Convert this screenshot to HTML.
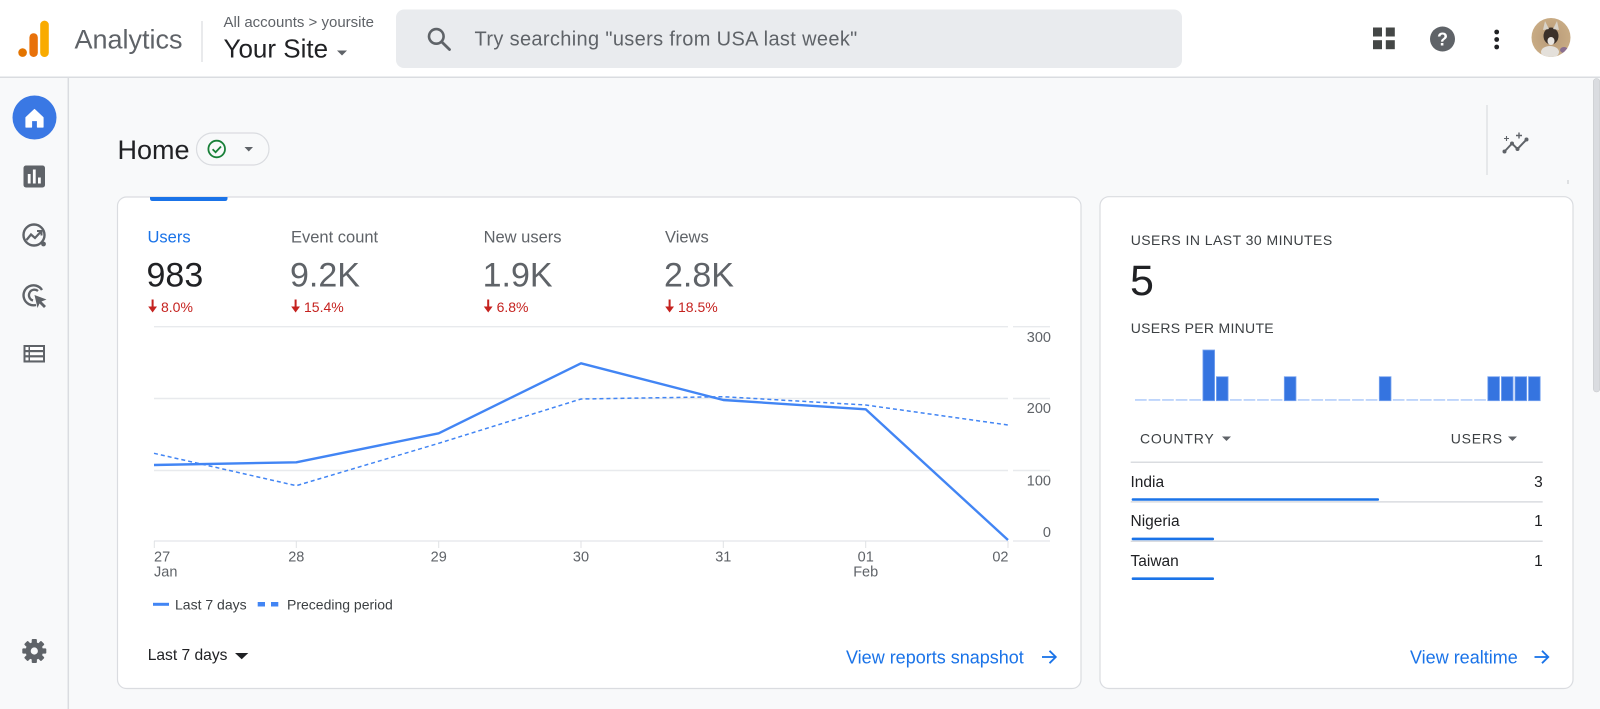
<!DOCTYPE html>
<html><head><meta charset="utf-8"><style>
html,body{margin:0;padding:0;background:#f8f9fa;}
svg{display:block;font-family:"Liberation Sans",Arial,sans-serif;}
</style></head><body>
<svg width="1600" height="709" viewBox="0 0 1600 709" xmlns="http://www.w3.org/2000/svg">
<!-- page background -->
<rect x="0" y="0" width="1600" height="709" fill="#f8f9fa"/>
<!-- header -->
<rect x="0" y="0" width="1600" height="77" fill="#ffffff"/>
<line x1="0" y1="77.2" x2="1600" y2="77.2" stroke="#dadce0" stroke-width="1.5"/>
<!-- logo -->
<circle cx="22.6" cy="52.6" r="4.3" fill="#E37400"/>
<rect x="29.4" y="33.2" width="8.4" height="23.8" rx="4.2" fill="#E8710A"/>
<rect x="40.2" y="20.6" width="8.6" height="36.4" rx="4.3" fill="#F9AB00"/>
<text x="74.5" y="48.5" font-size="27" fill="#5f6368">Analytics</text>
<line x1="202" y1="21" x2="202" y2="62" stroke="#dadce0" stroke-width="1.2"/>
<text x="223.5" y="27" font-size="15" fill="#5f6368">All accounts <tspan font-size="15">&gt;</tspan> yoursite</text>
<text x="223.5" y="57.5" font-size="26" fill="#202124">Your Site</text>
<polygon points="337,50.5 347,50.5 342,55.5" fill="#5f6368"/>
<!-- search -->
<rect x="396" y="9.5" width="786" height="58.5" rx="8" fill="#e9ebee"/>
<circle cx="436.3" cy="36.4" r="7.3" fill="none" stroke="#5f6368" stroke-width="2.6"/>
<line x1="441.6" y1="41.8" x2="449.5" y2="49.5" stroke="#5f6368" stroke-width="2.8" stroke-linecap="round"/>
<text x="474.5" y="45.5" font-size="20" letter-spacing="0.35" fill="#5f6368">Try searching "users from USA last week"</text>
<!-- header right icons -->
<rect x="1373" y="27.5" width="9" height="9" fill="#444746"/>
<rect x="1385.8" y="27.5" width="9" height="9" fill="#444746"/>
<rect x="1373" y="40.2" width="9" height="9" fill="#444746"/>
<rect x="1385.8" y="40.2" width="9" height="9" fill="#444746"/>
<circle cx="1442.5" cy="39" r="12.5" fill="#5f6368"/>
<text x="1442.5" y="45.5" font-size="18" font-weight="bold" fill="#ffffff" text-anchor="middle">?</text>
<circle cx="1496.7" cy="32" r="2.4" fill="#202124"/>
<circle cx="1496.7" cy="39.5" r="2.4" fill="#202124"/>
<circle cx="1496.7" cy="47" r="2.4" fill="#202124"/>
<!-- avatar -->
<defs>
<radialGradient id="av" cx="50%" cy="50%" r="50%">
<stop offset="0%" stop-color="#b89a78"/><stop offset="100%" stop-color="#c8ab84"/>
</radialGradient>
<clipPath id="avc"><circle cx="1551" cy="37.5" r="19.5"/></clipPath>
</defs>
<circle cx="1551" cy="37.5" r="19.5" fill="url(#av)"/>
<g clip-path="url(#avc)">
<ellipse cx="1551" cy="36" rx="7.5" ry="8.5" fill="#3b3029"/>
<polygon points="1543,30 1545,21 1549,29" fill="#d8d2c8"/>
<polygon points="1559,30 1557,21 1553,29" fill="#d8d2c8"/>
<ellipse cx="1551" cy="41" rx="3.5" ry="4" fill="#e9e5e0"/>
<ellipse cx="1550" cy="52" rx="9" ry="6" fill="#e4e0da"/>
<ellipse cx="1564" cy="50" rx="4" ry="3" fill="#8a6f8f"/>
</g>
<!-- sidebar -->
<line x1="68.3" y1="77" x2="68.3" y2="709" stroke="#dadce0" stroke-width="1.5"/>
<circle cx="34.5" cy="117.5" r="22" fill="#3a78e4"/>
<path d="M26 117.5 L34.5 109.5 L43 117.5 L43 127 L37.5 127 L37.5 120.5 L31.5 120.5 L31.5 127 L26 127 Z" fill="#ffffff" stroke="#ffffff" stroke-width="1.2" stroke-linejoin="round"/>
<!-- reports icon -->
<rect x="23.5" y="165.5" width="21.5" height="22" rx="2.5" fill="#5f6368"/>
<rect x="27.8" y="174" width="2.8" height="9.5" fill="#ffffff"/>
<rect x="32.9" y="169.5" width="2.8" height="14" fill="#ffffff"/>
<rect x="38" y="177.5" width="2.8" height="6" fill="#ffffff"/>
<!-- explore icon -->
<circle cx="34" cy="235" r="10.5" fill="none" stroke="#5f6368" stroke-width="2.4"/>
<polyline points="26.5,240 31,234.5 35,238 41,231.5" fill="none" stroke="#5f6368" stroke-width="2.2"/>
<polyline points="37,231 41.5,231 41.5,235.5" fill="none" stroke="#5f6368" stroke-width="2"/>
<circle cx="43.5" cy="244" r="2.4" fill="#5f6368"/>
<!-- advertising icon -->
<path d="M42 290 A10 10 0 1 0 36 305" fill="none" stroke="#5f6368" stroke-width="2.4"/>
<path d="M38 291 A5.5 5.5 0 1 0 33 300.5" fill="none" stroke="#5f6368" stroke-width="2.3"/>
<polygon points="34.5,295 46.5,299.5 41.5,301.5 46,306 44,308 39.5,303.5 37.5,308" fill="#5f6368"/>
<!-- list icon -->
<rect x="23.5" y="345" width="21.5" height="17.5" fill="#5f6368"/>
<rect x="25.5" y="347" width="3" height="3" fill="#ffffff"/>
<rect x="25.5" y="352.2" width="3" height="3" fill="#ffffff"/>
<rect x="25.5" y="357.4" width="3" height="3" fill="#ffffff"/>
<rect x="30" y="347" width="13" height="3" fill="#ffffff"/>
<rect x="30" y="352.2" width="13" height="3" fill="#ffffff"/>
<rect x="30" y="357.4" width="13" height="3" fill="#ffffff"/>
<!-- gear -->
<g transform="translate(34.3,651)" fill="#5f6368">
<circle r="8.8"/>
<rect x="-2.6" y="-12" width="5.2" height="6" rx="1"/>
<rect x="-2.6" y="-12" width="5.2" height="6" rx="1" transform="rotate(45)"/>
<rect x="-2.6" y="-12" width="5.2" height="6" rx="1" transform="rotate(90)"/>
<rect x="-2.6" y="-12" width="5.2" height="6" rx="1" transform="rotate(135)"/>
<rect x="-2.6" y="-12" width="5.2" height="6" rx="1" transform="rotate(180)"/>
<rect x="-2.6" y="-12" width="5.2" height="6" rx="1" transform="rotate(225)"/>
<rect x="-2.6" y="-12" width="5.2" height="6" rx="1" transform="rotate(270)"/>
<rect x="-2.6" y="-12" width="5.2" height="6" rx="1" transform="rotate(315)"/>
<circle r="3.6" fill="#f8f9fa"/>
</g>
<!-- Home title -->
<text x="117.5" y="159" font-size="27" fill="#202124">Home</text>
<rect x="196.5" y="133" width="72.5" height="32" rx="16" fill="none" stroke="#dadce0" stroke-width="1.2"/>
<circle cx="216.7" cy="149" r="8.3" fill="none" stroke="#188038" stroke-width="1.8"/>
<polyline points="212.6,149.2 215.6,152.2 221,146.5" fill="none" stroke="#188038" stroke-width="1.8"/>
<polygon points="244.5,147 253,147 248.75,151.5" fill="#5f6368"/>
<!-- insights -->
<line x1="1487" y1="105" x2="1487" y2="175" stroke="#dadce0" stroke-width="1.2"/>
<polyline points="1504.5,151.5 1512,143.5 1517.5,149 1526.5,139.5" fill="none" stroke="#5f6368" stroke-width="2"/>
<circle cx="1504.5" cy="151.5" r="2" fill="#5f6368"/>
<circle cx="1512" cy="143.5" r="2" fill="#5f6368"/>
<circle cx="1517.5" cy="149" r="2" fill="#5f6368"/>
<circle cx="1526.5" cy="139.5" r="2" fill="#5f6368"/>
<path d="M1506.5 136 v5 M1504 138.5 h5" stroke="#5f6368" stroke-width="1.1"/>
<path d="M1519 132.5 v6 M1516 135.5 h6" stroke="#5f6368" stroke-width="1.4"/>
<line x1="1568" y1="180" x2="1568" y2="184" stroke="#c4c7c9" stroke-width="1"/>
<!-- scrollbar -->
<rect x="1593.3" y="78.5" width="6.5" height="313.5" rx="3.2" fill="#dadce0" stroke="#c9cbce" stroke-width="0.6"/>

<!-- LEFT CARD -->
<rect x="117.5" y="197" width="963.5" height="491.5" rx="9" fill="#ffffff" stroke="#dadce0" stroke-width="1.2"/>
<path d="M150 197 H227.5 V198.5 Q227.5 201 225 201 H152.5 Q150 201 150 198.5 Z" fill="#1a73e8"/>
<!-- metrics -->
<text x="147.5" y="242.7" font-size="16.5" fill="#1a73e8">Users</text>
<text x="291" y="242.7" font-size="16.5" fill="#5f6368">Event count</text>
<text x="483.6" y="242.7" font-size="16.5" fill="#5f6368">New users</text>
<text x="665" y="242.7" font-size="16.5" fill="#5f6368">Views</text>
<text x="146.5" y="286.5" font-size="34" fill="#202124">983</text>
<text x="290" y="286.5" font-size="34" fill="#5f6368">9.2K</text>
<text x="482.6" y="286.5" font-size="34" fill="#5f6368">1.9K</text>
<text x="664" y="286.5" font-size="34" fill="#5f6368">2.8K</text>
<g fill="#c5221f">
<rect x="151.6" y="299.5" width="2" height="9"/><polygon points="148.2,306.5 157,306.5 152.6,312.5"/>
<rect x="294.6" y="299.5" width="2" height="9"/><polygon points="291.2,306.5 300,306.5 295.6,312.5"/>
<rect x="487.2" y="299.5" width="2" height="9"/><polygon points="483.8,306.5 492.6,306.5 488.2,312.5"/>
<rect x="668.6" y="299.5" width="2" height="9"/><polygon points="665.2,306.5 674,306.5 669.6,312.5"/>
</g>
<text x="161" y="312" font-size="14" fill="#c5221f">8.0%</text>
<text x="304" y="312" font-size="14" fill="#c5221f">15.4%</text>
<text x="496.6" y="312" font-size="14" fill="#c5221f">6.8%</text>
<text x="678" y="312" font-size="14" fill="#c5221f">18.5%</text>
<!-- grid -->
<g stroke="#e8eaed" stroke-width="1.4">
<line x1="154" y1="326.7" x2="1008" y2="326.7"/><line x1="1013" y1="326.7" x2="1050" y2="326.7"/>
<line x1="154" y1="398.5" x2="1008" y2="398.5"/><line x1="1013" y1="398.5" x2="1050" y2="398.5"/>
<line x1="154" y1="470.5" x2="1008" y2="470.5"/><line x1="1013" y1="470.5" x2="1050" y2="470.5"/>
<line x1="154" y1="541" x2="1008" y2="541"/><line x1="1013" y1="541" x2="1050" y2="541"/>
</g>
<g stroke="#e0e2e5" stroke-width="1">
<line x1="154.3" y1="541" x2="154.3" y2="548"/>
<line x1="296.3" y1="541" x2="296.3" y2="548"/>
<line x1="438.7" y1="541" x2="438.7" y2="548"/>
<line x1="581" y1="541" x2="581" y2="548"/>
<line x1="723.3" y1="541" x2="723.3" y2="548"/>
<line x1="865.7" y1="541" x2="865.7" y2="548"/>
<line x1="1008" y1="541" x2="1008" y2="548"/>
</g>
<g font-size="14.5" fill="#5f6368">
<text x="1051" y="342" text-anchor="end">300</text>
<text x="1051" y="413" text-anchor="end">200</text>
<text x="1051" y="485.3" text-anchor="end">100</text>
<text x="1051" y="537" text-anchor="end">0</text>
<text x="154" y="561.5">27</text>
<text x="154" y="576.5">Jan</text>
<text x="296.3" y="561.5" text-anchor="middle">28</text>
<text x="438.7" y="561.5" text-anchor="middle">29</text>
<text x="581" y="561.5" text-anchor="middle">30</text>
<text x="723.3" y="561.5" text-anchor="middle">31</text>
<text x="865.7" y="561.5" text-anchor="middle">01</text>
<text x="865.7" y="576.5" text-anchor="middle">Feb</text>
<text x="1008.5" y="561.5" text-anchor="end">02</text>
</g>
<!-- series -->
<polyline points="154,453.3 296.3,485.7 438.7,443.3 581,399 723.3,396.7 865.7,405 1008,425" fill="none" stroke="#4285f4" stroke-width="1.5" stroke-dasharray="4 3"/>
<polyline points="154,465 296.3,462.3 438.7,433.3 581,363.3 723.3,400 865.7,409.3 1008,540" fill="none" stroke="#4285f4" stroke-width="2.4" stroke-linejoin="round"/>
<!-- legend -->
<line x1="153" y1="604.3" x2="169" y2="604.3" stroke="#4285f4" stroke-width="3"/>
<text x="175" y="609.3" font-size="14" fill="#3c4043">Last 7 days</text>
<rect x="257.7" y="602" width="7.3" height="4.5" fill="#4285f4"/>
<rect x="271" y="602" width="7.3" height="4.5" fill="#4285f4"/>
<text x="287" y="609.3" font-size="14" fill="#3c4043">Preceding period</text>
<!-- bottom -->
<text x="147.7" y="660" font-size="15.6" fill="#202124">Last 7 days</text>
<polygon points="235,653 248.3,653 241.7,659.3" fill="#202124"/>
<text x="846" y="663.3" font-size="18" fill="#1a73e8">View reports snapshot</text>
<line x1="1042" y1="657" x2="1055.5" y2="657" stroke="#1a73e8" stroke-width="1.8"/>
<polyline points="1049.5,650.8 1055.8,657 1049.5,663.2" fill="none" stroke="#1a73e8" stroke-width="1.8"/>

<!-- RIGHT CARD -->
<rect x="1100" y="196.7" width="473" height="491.8" rx="9" fill="#ffffff" stroke="#dadce0" stroke-width="1.2"/>
<text x="1130.7" y="245" font-size="14" letter-spacing="0.45" fill="#3c4043">USERS IN LAST 30 MINUTES</text>
<text x="1130" y="295" font-size="43" fill="#202124">5</text>
<text x="1130.7" y="332.8" font-size="14" letter-spacing="0.3" fill="#3c4043">USERS PER MINUTE</text>
<!-- bars -->
<g fill="#aecbfa">
<rect x="1135" y="399.2" width="11.7" height="1.5"/>
<rect x="1148.6" y="399.2" width="11.7" height="1.5"/>
<rect x="1162.1" y="399.2" width="11.7" height="1.5"/>
<rect x="1175.7" y="399.2" width="11.7" height="1.5"/>
<rect x="1189.3" y="399.2" width="11.7" height="1.5"/>
<rect x="1230" y="399.2" width="11.7" height="1.5"/>
<rect x="1243.6" y="399.2" width="11.7" height="1.5"/>
<rect x="1257.1" y="399.2" width="11.7" height="1.5"/>
<rect x="1270.7" y="399.2" width="11.7" height="1.5"/>
<rect x="1297.8" y="399.2" width="11.7" height="1.5"/>
<rect x="1311.4" y="399.2" width="11.7" height="1.5"/>
<rect x="1325" y="399.2" width="11.7" height="1.5"/>
<rect x="1338.5" y="399.2" width="11.7" height="1.5"/>
<rect x="1352.1" y="399.2" width="11.7" height="1.5"/>
<rect x="1365.7" y="399.2" width="11.7" height="1.5"/>
<rect x="1392.8" y="399.2" width="11.7" height="1.5"/>
<rect x="1406.4" y="399.2" width="11.7" height="1.5"/>
<rect x="1419.9" y="399.2" width="11.7" height="1.5"/>
<rect x="1433.5" y="399.2" width="11.7" height="1.5"/>
<rect x="1447.1" y="399.2" width="11.7" height="1.5"/>
<rect x="1460.7" y="399.2" width="11.7" height="1.5"/>
<rect x="1474.2" y="399.2" width="11.7" height="1.5"/>
</g>
<g fill="#3574e0" stroke="#7aa5f0" stroke-width="0.8">
<rect x="1202.9" y="350" width="11.7" height="50.7"/>
<rect x="1216.4" y="376.7" width="11.7" height="24"/>
<rect x="1284.3" y="376.7" width="11.7" height="24"/>
<rect x="1379.3" y="376.7" width="11.7" height="24"/>
<rect x="1487.8" y="376.7" width="11.7" height="24"/>
<rect x="1501.4" y="376.7" width="11.7" height="24"/>
<rect x="1515" y="376.7" width="11.7" height="24"/>
<rect x="1528.5" y="376.7" width="11.7" height="24"/>
</g>
<!-- table -->
<text x="1140" y="443.3" font-size="14" letter-spacing="0.8" fill="#3c4043">COUNTRY</text>
<polygon points="1222,436.5 1231,436.5 1226.5,441" fill="#5f6368"/>
<text x="1450.7" y="443.3" font-size="14" letter-spacing="0.8" fill="#3c4043">USERS</text>
<polygon points="1508,436.5 1517,436.5 1512.5,441" fill="#5f6368"/>
<line x1="1130.7" y1="462.3" x2="1542.7" y2="462.3" stroke="#dadce0" stroke-width="1.5"/>
<text x="1130.5" y="487" font-size="15.5" fill="#202124">India</text>
<text x="1542.7" y="487" font-size="15.5" fill="#202124" text-anchor="end">3</text>
<rect x="1131.7" y="498.2" width="247.3" height="2.6" rx="1" fill="#1a73e8"/>
<line x1="1130.7" y1="501.9" x2="1542.7" y2="501.9" stroke="#dadce0" stroke-width="1.5"/>
<text x="1130.5" y="526.2" font-size="15.5" fill="#202124">Nigeria</text>
<text x="1542.7" y="526.2" font-size="15.5" fill="#202124" text-anchor="end">1</text>
<rect x="1131.7" y="537.6" width="82.3" height="2.6" rx="1" fill="#1a73e8"/>
<line x1="1130.7" y1="541.3" x2="1542.7" y2="541.3" stroke="#dadce0" stroke-width="1.5"/>
<text x="1130.5" y="566.2" font-size="15.5" fill="#202124">Taiwan</text>
<text x="1542.7" y="566.2" font-size="15.5" fill="#202124" text-anchor="end">1</text>
<rect x="1131.7" y="577.4" width="82.3" height="2.6" rx="1" fill="#1a73e8"/>
<text x="1410" y="663.3" font-size="18" fill="#1a73e8">View realtime</text>
<line x1="1534.5" y1="657" x2="1548" y2="657" stroke="#1a73e8" stroke-width="1.8"/>
<polyline points="1542,650.8 1548.3,657 1542,663.2" fill="none" stroke="#1a73e8" stroke-width="1.8"/>
</svg>
</body></html>
